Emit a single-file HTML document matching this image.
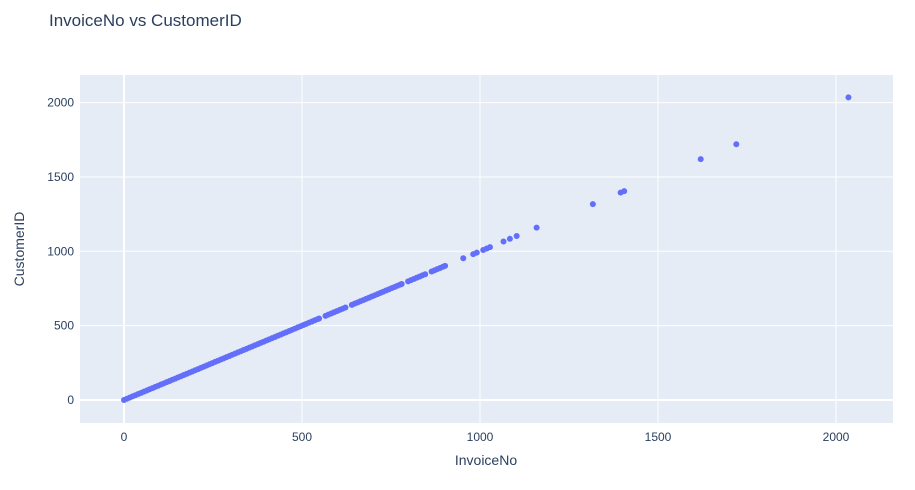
<!DOCTYPE html>
<html><head><meta charset="utf-8"><style>
body{margin:0;background:#fff;font-family:"Liberation Sans",sans-serif;}
svg text{font-family:"Liberation Sans",sans-serif;fill:#2a3f5f;}
</style></head><body>
<svg id="chart" width="915" height="485">
<rect x="0" y="0" width="915" height="485" fill="#fff"/>
<text x="49" y="26" font-size="17">InvoiceNo vs CustomerID</text>
<rect x="80" y="75" width="813" height="348" fill="#e5ecf6"/>
<g id="grid"></g>
<g id="pts"></g>
<text x="486" y="465" font-size="14" text-anchor="middle">InvoiceNo</text>
<text transform="translate(24,249) rotate(-90)" font-size="14" text-anchor="middle">CustomerID</text>
</svg>
<script>
const xTicks=[0,500,1000,1500,2000];
const yTicks=[0,500,1000,1500,2000];
const invoiceNo=[0,8,16,24,32,40,48,56,64,72,80,88,96,104,112,120,128,136,144,152,160,168,176,184,192,200,208,216,224,232,240,248,256,264,272,280,288,296,304,312,320,328,336,344,352,360,368,376,384,392,400,408,416,424,432,440,448,456,464,472,480,488,496,504,512,520,528,536,544,548,566,574,582,590,598,606,614,622,640,648,656,664,672,680,688,696,704,712,720,728,736,744,752,760,768,776,780,798,806,814,822,830,838,846,864,872,880,888,896,902,953,981,991,1009,1019,1028,1066,1084,1103,1159,1317,1395,1405,1620,1720,2035];
const customerID=[0,8,16,24,32,40,48,56,64,72,80,88,96,104,112,120,128,136,144,152,160,168,176,184,192,200,208,216,224,232,240,248,256,264,272,280,288,296,304,312,320,328,336,344,352,360,368,376,384,392,400,408,416,424,432,440,448,456,464,472,480,488,496,504,512,520,528,536,544,548,566,574,582,590,598,606,614,622,640,648,656,664,672,680,688,696,704,712,720,728,736,744,752,760,768,776,780,798,806,814,822,830,838,846,864,872,880,888,896,902,953,981,991,1009,1019,1028,1066,1084,1103,1159,1317,1395,1405,1620,1720,2035];
const NS="http://www.w3.org/2000/svg";
function xs(v){return 124+v*0.356;}
function ys(v){return 400-v*0.1487;}
const grid=document.getElementById('grid');
xTicks.forEach(t=>{
  const l=document.createElementNS(NS,'line');
  l.setAttribute('x1',xs(t));l.setAttribute('x2',xs(t));l.setAttribute('y1',75);l.setAttribute('y2',423);
  l.setAttribute('stroke','#fff');l.setAttribute('stroke-width',t===0?2:1);
  
  
  grid.appendChild(l);
  const tx=document.createElementNS(NS,'text');
  tx.setAttribute('x',xs(t));tx.setAttribute('y',441);tx.setAttribute('font-size','12');tx.setAttribute('text-anchor','middle');
  tx.textContent=t;
  
  
  grid.appendChild(tx);
});
yTicks.forEach(t=>{
  const l=document.createElementNS(NS,'line');
  l.setAttribute('x1',80);l.setAttribute('x2',893);l.setAttribute('y1',ys(t));l.setAttribute('y2',ys(t));
  l.setAttribute('stroke','#fff');l.setAttribute('stroke-width',t===0?2:1);
  
  
  grid.appendChild(l);
  const tx=document.createElementNS(NS,'text');
  tx.setAttribute('x',74);tx.setAttribute('y',ys(t)+4);tx.setAttribute('font-size','12');tx.setAttribute('text-anchor','end');
  tx.textContent=t;
  
  
  grid.appendChild(tx);
});
const pts=document.getElementById('pts');
invoiceNo.forEach((v,i)=>{
  const c=document.createElementNS(NS,'circle');
  c.setAttribute('cx',xs(v));c.setAttribute('cy',ys(customerID[i]));c.setAttribute('r',3);
  c.setAttribute('fill','#636efa');
  
  
  pts.appendChild(c);
});
</script>
</body></html>
